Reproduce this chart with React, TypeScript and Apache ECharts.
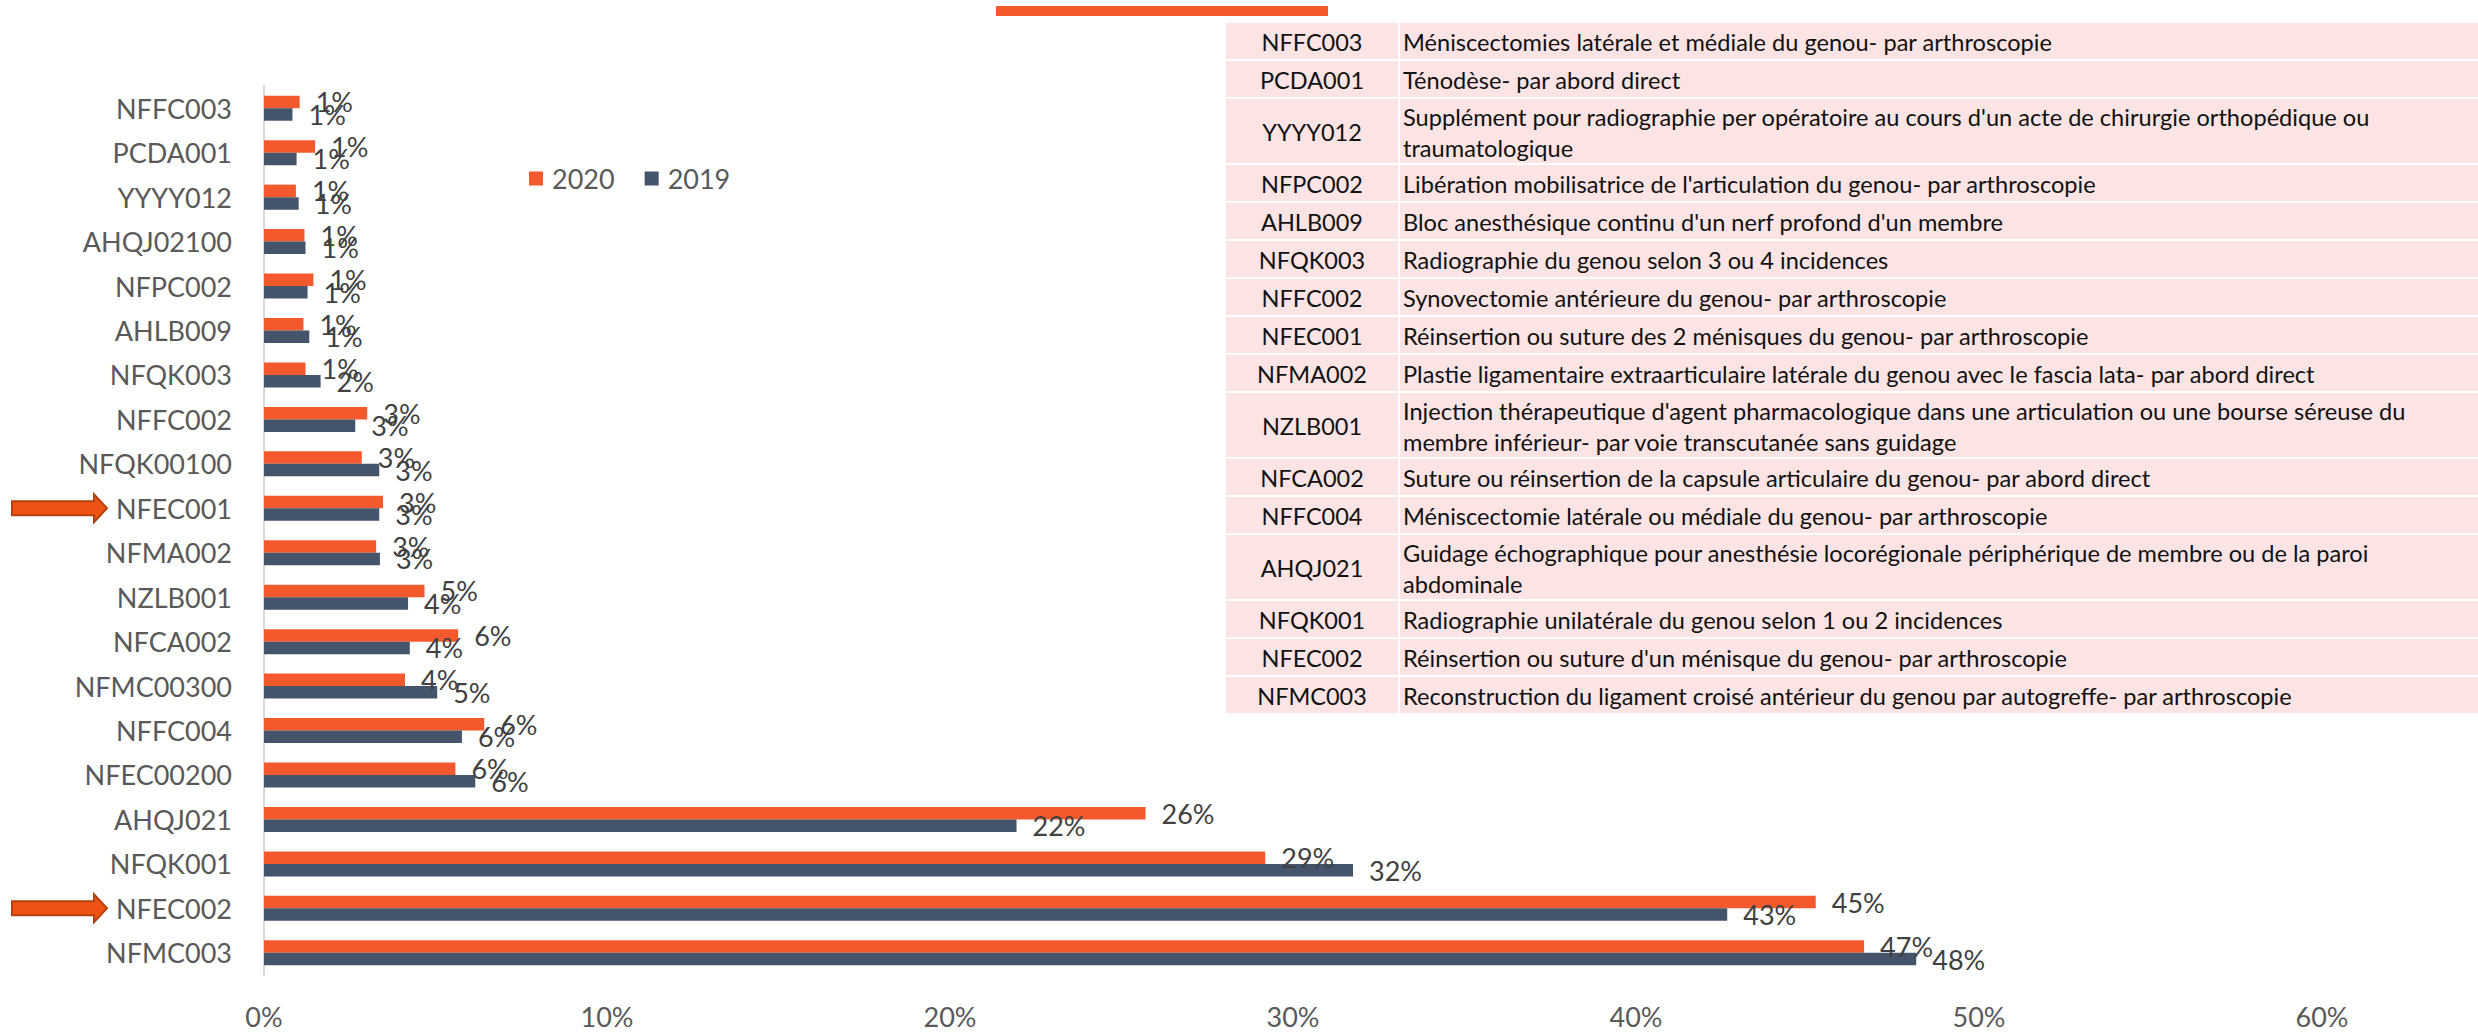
import React, { useEffect, useRef } from 'react';
import * as echarts from 'echarts';

const categories = [
  'NFFC003', 'PCDA001', 'YYYY012', 'AHQJ02100', 'NFPC002', 'AHLB009', 'NFQK003',
  'NFFC002', 'NFQK00100', 'NFEC001', 'NFMA002', 'NZLB001', 'NFCA002', 'NFMC00300',
  'NFFC004', 'NFEC00200', 'AHQJ021', 'NFQK001', 'NFEC002', 'NFMC003',
];
const values2020 = [1.04, 1.49, 0.93, 1.18, 1.44, 1.15, 1.21, 3.01, 2.85, 3.47, 3.27, 4.68, 5.66, 4.11, 6.42, 5.58, 25.7, 29.19, 45.24, 46.65];
const values2019 = [0.83, 0.95, 1.01, 1.21, 1.27, 1.32, 1.65, 2.66, 3.36, 3.36, 3.38, 4.2, 4.25, 5.05, 5.77, 6.16, 21.94, 31.75, 42.66, 48.17];
const seriesNames = ['2020', '2019'];
const xTicks = { min: 0, max: 60, interval: 10 };
const highlighted = ['NFEC001', 'NFEC002'];

const tableCodes = [
  'NFFC003', 'PCDA001', 'YYYY012', 'NFPC002', 'AHLB009', 'NFQK003', 'NFFC002', 'NFEC001',
  'NFMA002', 'NZLB001', 'NFCA002', 'NFFC004', 'AHQJ021', 'NFQK001', 'NFEC002', 'NFMC003',
];
const tableDescriptions = [
  'Méniscectomies latérale et médiale du genou- par arthroscopie',
  'Ténodèse- par abord direct',
  "Supplément pour radiographie per opératoire au cours d'un acte de chirurgie orthopédique ou\ntraumatologique",
  "Libération mobilisatrice de l'articulation du genou- par arthroscopie",
  "Bloc anesthésique continu d'un nerf profond d'un membre",
  'Radiographie du genou selon 3 ou 4 incidences',
  'Synovectomie antérieure du genou- par arthroscopie',
  'Réinsertion ou suture des 2 ménisques du genou- par arthroscopie',
  'Plastie ligamentaire extraarticulaire latérale du genou avec le fascia lata- par abord direct',
  "Injection thérapeutique d'agent pharmacologique dans une articulation ou une bourse séreuse du\nmembre inférieur- par voie transcutanée sans guidage",
  'Suture ou réinsertion de la capsule articulaire du genou- par abord direct',
  'Méniscectomie latérale ou médiale du genou- par arthroscopie',
  'Guidage échographique pour anesthésie locorégionale périphérique de membre ou de la paroi\nabdominale',
  'Radiographie unilatérale du genou selon 1 ou 2 incidences',
  "Réinsertion ou suture d'un ménisque du genou- par arthroscopie",
  'Reconstruction du ligament croisé antérieur du genou par autogreffe- par arthroscopie',
];

const ORANGE = '#F4592D';
const BLUE = '#44546A';
const FONT = 'Lato, "Noto Sans", sans-serif';

export default function App() {
  const ref = useRef<HTMLDivElement>(null);
  useEffect(() => {
    const chart = echarts.init(ref.current!, null, { renderer: 'svg' });
    const label = {
      show: true,
      position: 'right',
      distance: 16,
      color: '#404040',
      fontSize: 27,
      fontFamily: FONT,
      formatter: (p: any) => Math.round(p.value) + '%',
    };
    chart.setOption({
      animation: false,
      textStyle: { fontFamily: FONT },
      grid: { left: 264, right: 156, top: 86, bottom: 57, containLabel: false },
      legend: {
        data: seriesNames,
        left: 524,
        top: 160,
        icon: 'rect',
        itemWidth: 14,
        itemHeight: 14,
        itemGap: 30,
        textStyle: { fontSize: 27, color: '#595959', fontFamily: FONT, padding: [0, 0, 0, 4] },
      },
      xAxis: {
        type: 'value',
        min: xTicks.min,
        max: xTicks.max,
        interval: xTicks.interval,
        axisLine: { show: false },
        axisTick: { show: false },
        splitLine: { show: false },
        axisLabel: { formatter: '{value}%', fontSize: 27, color: '#595959', margin: 28, fontFamily: FONT },
      },
      yAxis: {
        type: 'category',
        data: categories,
        inverse: true,
        axisLine: { show: true, lineStyle: { color: '#D9D9D9', width: 2 } },
        axisTick: { show: false },
        axisLabel: { fontSize: 27, color: '#595959', margin: 32, fontFamily: FONT },
      },
      series: [
        { name: seriesNames[0], type: 'bar', data: values2020, barWidth: 12.5, barGap: '0%', itemStyle: { color: ORANGE }, label },
        { name: seriesNames[1], type: 'bar', data: values2019, barWidth: 12.5, barGap: '0%', itemStyle: { color: BLUE }, label },
      ],
    });

    const graphics: any[] = [];
    // top orange strip
    graphics.push({ type: 'rect', shape: { x: 996, y: 6, width: 332, height: 10 }, style: { fill: ORANGE } });
    // table
    let y = 23;
    const codeX = 1226, codeW = 172, descX = 1400, descW = 1078;
    tableCodes.forEach((code, i) => {
      const desc = tableDescriptions[i];
      const h = desc.includes('\n') ? 64 : 36;
      graphics.push({ type: 'rect', shape: { x: codeX, y, width: codeW, height: h }, style: { fill: '#FCE4E4' } });
      graphics.push({ type: 'rect', shape: { x: descX, y, width: descW, height: h }, style: { fill: '#FCE4E4' } });
      graphics.push({
        type: 'text', x: codeX + codeW / 2, y: y + h / 2 + 1,
        style: { text: code, font: `23.5px ${FONT}`, fill: '#111', textAlign: 'center', textVerticalAlign: 'middle' },
      });
      graphics.push({
        type: 'text', x: descX + 3, y: y + h / 2 + 1,
        style: { text: desc, font: `23.6px ${FONT}`, fill: '#111', textAlign: 'left', textVerticalAlign: 'middle', lineHeight: 31 },
      });
      y += h + 2;
    });
    // arrows
    highlighted.forEach((code) => {
      const c = chart.convertToPixel({ yAxisIndex: 0 }, categories.indexOf(code)) as number;
      graphics.push({
        type: 'polygon',
        shape: { points: [[12, c - 7], [94, c - 7], [94, c - 14], [107, c], [94, c + 14], [94, c + 7], [12, c + 7]] },
        style: { fill: '#EE5314', stroke: '#B5410C', lineWidth: 2 },
      });
    });
    chart.setOption({ graphic: graphics });
    return () => chart.dispose();
  }, []);
  return <div ref={ref} style={{ position: 'absolute', left: 0, top: 0, width: 2478, height: 1032 }} />;
}
